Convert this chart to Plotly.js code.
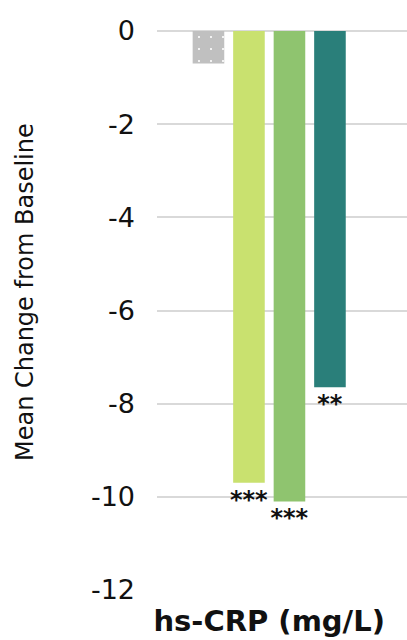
<!DOCTYPE html>
<html>
<head>
<meta charset="utf-8">
<script src="https://cdn.plot.ly/plotly-3.0.1.min.js"></script>
<style>
  html, body { margin: 0; padding: 0; background: #ffffff; }
  #chart { width: 407px; height: 640px; }
</style>
</head>
<body>
<div id="chart"></div>
<script>
// Mean change from baseline in hs-CRP, one bar per treatment group
const category = ["hs-CRP (mg/L)"];
const groupNames = ["Placebo", "Dose A", "Dose B", "Dose C"];
const meanChange = [-0.7, -9.7, -10.1, -7.65];
const significance = ["", "***", "***", "**"];
const barColors = ["#c0c0c0", "#c9e16f", "#8fc46f", "#2a7f7a"];

const yTickVals = [0, -2, -4, -6, -8, -10, -12];
const yTickText = ["0", "-2", "-4", "-6", "-8", "-10", "-12"];

const FONT = "DejaVu Sans, Verdana, sans-serif";

const traces = groupNames.map((name, i) => {
  const t = {
    type: "bar",
    name: name,
    x: category,
    y: [meanChange[i]],
    text: [significance[i]],
    textposition: "outside",
    constraintext: "none",
    textfont: { family: FONT, size: 24, color: "#111111", weight: "bold" },
    cliponaxis: false,
    marker: { color: barColors[i], line: { width: 0 } },
    hoverinfo: "skip"
  };
  if (i === 0) {
    // placebo bar: grey with a sparse white dot texture
    t.marker.pattern = {
      shape: ".",
      bgcolor: barColors[0],
      fgcolor: "#ffffff",
      size: 12,
      solidity: 0.025,
      fillmode: "replace"
    };
  }
  return t;
});

const layout = {
  width: 407,
  height: 640,
  margin: { l: 157, r: 0, t: 31, b: 50, pad: 0 },
  paper_bgcolor: "#ffffff",
  plot_bgcolor: "#ffffff",
  showlegend: false,
  barmode: "group",
  bargap: 0.19,
  bargroupgap: 0.22,
  font: { family: FONT, color: "#111111" },
  xaxis: {
    type: "category",
    range: [-0.561, 0.689],
    showgrid: false,
    zeroline: false,
    showline: false,
    ticks: "",
    ticklabelstandoff: 11,
    tickfont: { family: FONT, size: 29, color: "#111111", weight: "bold" },
    fixedrange: true
  },
  yaxis: {
    range: [-12, 0],
    tickmode: "array",
    tickvals: yTickVals,
    ticktext: yTickText,
    showgrid: true,
    gridcolor: "#d9d9d9",
    gridwidth: 2,
    zeroline: true,
    zerolinecolor: "#d9d9d9",
    zerolinewidth: 2,
    showline: false,
    ticks: "",
    ticklabelstandoff: 21,
    tickfont: { family: FONT, size: 27, color: "#111111" },
    fixedrange: true
  },
  annotations: [{
    text: "Mean Change from Baseline",
    textangle: -90,
    xref: "paper",
    yref: "paper",
    x: -0.528,
    y: 0.533,
    xanchor: "center",
    yanchor: "middle",
    showarrow: false,
    font: { family: FONT, size: 24, color: "#111111" }
  }]
};

Plotly.newPlot("chart", traces, layout, { displayModeBar: false, staticPlot: true });
</script>
</body>
</html>
